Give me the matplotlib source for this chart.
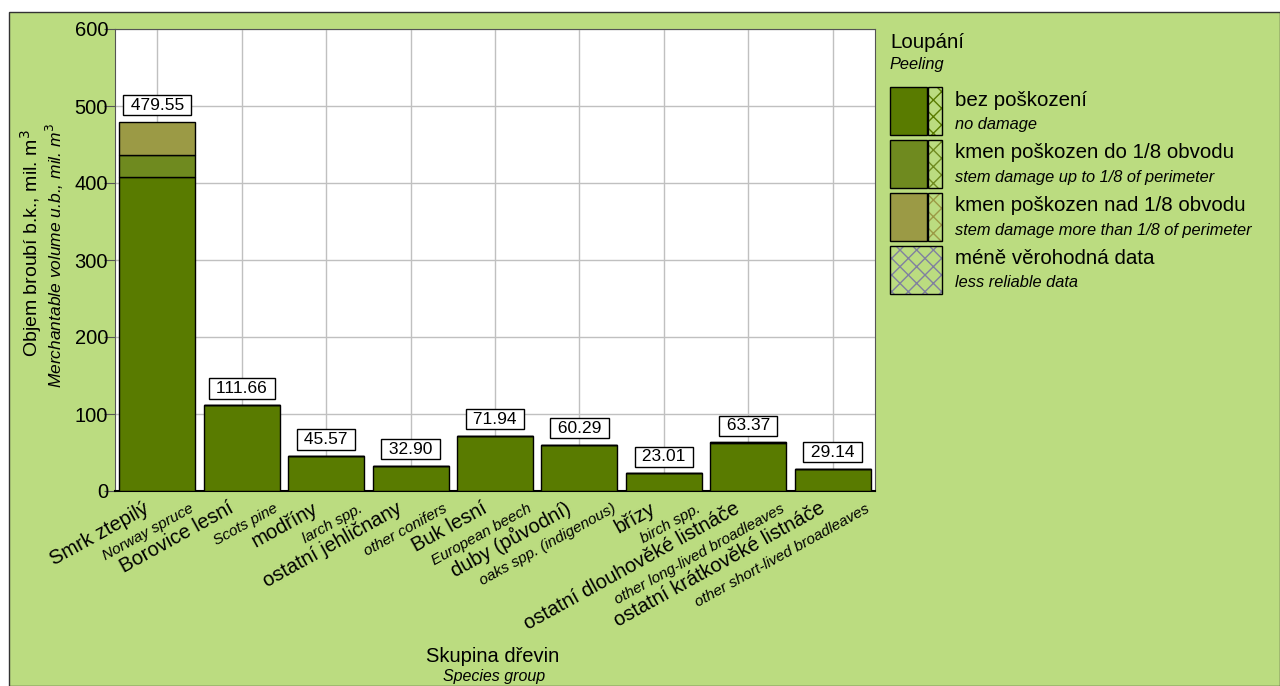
import matplotlib
matplotlib.use("Agg")
import matplotlib.pyplot as plt
from matplotlib.patches import Rectangle

plt.rcParams['font.family'] = ['Liberation Sans', 'DejaVu Sans']
plt.rcParams['hatch.linewidth'] = 1.0

# data
groups_cz = ['Smrk ztepilý', 'Borovice lesní', 'modříny', 'ostatní jehličnany', 'Buk lesní',
             'duby (původní)', 'břízy', 'ostatní dlouhověké listnáče', 'ostatní krátkověké listnáče']
groups_en = ['Norway spruce', 'Scots pine', 'larch spp.', 'other conifers', 'European beech',
             'oaks spp. (indigenous)', 'birch spp.', 'other long-lived broadleaves',
             'other short-lived broadleaves']
no_damage = [408.0, 111.3, 45.3, 32.2, 71.6, 60.0, 22.8, 62.8, 28.9]
damage_small = [28.5, 0.2, 0.2, 0.4, 0.2, 0.2, 0.1, 0.4, 0.2]
damage_large = [43.05, 0.16, 0.07, 0.3, 0.14, 0.09, 0.11, 0.17, 0.04]

series_cz = ['bez poškození', 'kmen poškozen do 1/8 obvodu', 'kmen poškozen nad 1/8 obvodu']
series_en = ['no damage', 'stem damage up to 1/8 of perimeter', 'stem damage more than 1/8 of perimeter']
colors = ['#597b00', '#6f8a1f', '#9b9a45']
bg = '#bbdc80'

W, H = 1280, 686
fig = plt.figure(figsize=(W / 100, H / 100), dpi=100, facecolor='white')
fig.add_artist(Rectangle((9 / W, 0), 1 - 9 / W, 1 - 12 / H, transform=fig.transFigure,
                         facecolor=bg, edgecolor='#333333', lw=1, zorder=-10))

ax = fig.add_axes([115 / W, 1 - 491 / H, 760 / W, 462 / H])
ax.set_facecolor('white')

x = list(range(len(groups_cz)))
bottom = [0.0] * len(x)
for vals, col in zip([no_damage, damage_small, damage_large], colors):
    ax.bar(x, vals, width=0.9, bottom=bottom, color=col, edgecolor='black', linewidth=1, zorder=3)
    bottom = [b + v for b, v in zip(bottom, vals)]

for i, t in zip(x, bottom):
    ax.annotate(f' {t:.2f} ', xy=(i, t), xytext=(0, 9), textcoords='offset pixels',
                ha='center', va='bottom', fontsize=12.5, zorder=5,
                bbox=dict(boxstyle='square,pad=0.15', fc='white', ec='black', lw=1))

ax.set_xlim(-0.5, len(x) - 0.5)
ax.set_ylim(0, 600)
ax.set_yticks(range(0, 601, 100))
ax.set_xticks(x)
ax.set_xticklabels([])
ax.tick_params(axis='x', length=0)
ax.tick_params(axis='y', labelsize=14.5, length=8, pad=-3, color='#555555')
ax.grid(True, color='#c0c0c0', lw=1, zorder=0)
for s in ['left', 'top', 'right']:
    ax.spines[s].set_color('#555555')
ax.spines['bottom'].set_color('black')
ax.spines['bottom'].set_linewidth(1.5)

for i, (cz, en) in enumerate(zip(groups_cz, groups_en)):
    ax.annotate(cz, xy=(i, 0), xycoords=('data', 'axes fraction'), xytext=(-7, -21),
                textcoords='offset pixels', rotation=29, rotation_mode='anchor',
                ha='right', va='baseline', fontsize=14.5)
    ax.annotate(en, xy=(i + 0.43, 0), xycoords=('data', 'axes fraction'), xytext=(1, -20),
                textcoords='offset pixels', rotation=29, rotation_mode='anchor',
                ha='right', va='baseline', fontsize=11, style='italic')

# axis titles
fig.text(493 / W, 1 - 657 / H, 'Skupina dřevin', ha='center', va='center', fontsize=14.5)
fig.text(494 / W, 1 - 676 / H, 'Species group', ha='center', va='center', fontsize=11.5, style='italic')
fig.text(31 / W, 1 - 243 / H, 'Objem broubí b.k., mil. m$^3$', ha='center', va='center',
         rotation=90, fontsize=14)
fig.text(55 / W, 1 - 256 / H, 'Merchantable volume u.b., mil. m$^3$', ha='center', va='center',
         rotation=90, fontsize=12.5, style='italic')


# legend drawn by hand
def box(px, py, pw, ph, **kw):
    fig.add_artist(Rectangle((px / W, 1 - (py + ph) / H), pw / W, ph / H,
                             transform=fig.transFigure, **kw))


fig.text(890 / W, 1 - 42 / H, 'Loupání', ha='left', va='center', fontsize=14.8)
fig.text(890 / W, 1 - 65 / H, 'Peeling', ha='left', va='center', fontsize=11.8, style='italic')
for k, (cz, en, col) in enumerate(zip(series_cz, series_en, colors)):
    top = 87 + 53 * k
    box(890, top, 37, 48, facecolor=col, edgecolor='black', lw=1)
    box(928, top, 14, 48, facecolor=bg, edgecolor=col, hatch='xx', lw=0)
    box(928, top, 14, 48, facecolor='none', edgecolor='black', lw=1)
    fig.text(955 / W, 1 - (top + 13) / H, cz, ha='left', va='center', fontsize=14.8)
    fig.text(955 / W, 1 - (top + 37) / H, en, ha='left', va='center', fontsize=11.8, style='italic')
top = 87 + 53 * 3
box(890, top, 52, 48, facecolor=bg, edgecolor='#8080a0', hatch='xx', lw=0)
box(890, top, 52, 48, facecolor='none', edgecolor='black', lw=1)
fig.text(955 / W, 1 - (top + 13) / H, 'méně věrohodná data', ha='left', va='center', fontsize=14.8)
fig.text(955 / W, 1 - (top + 37) / H, 'less reliable data', ha='left', va='center', fontsize=11.8, style='italic')

fig.savefig('out.png', dpi=100, facecolor='white')
